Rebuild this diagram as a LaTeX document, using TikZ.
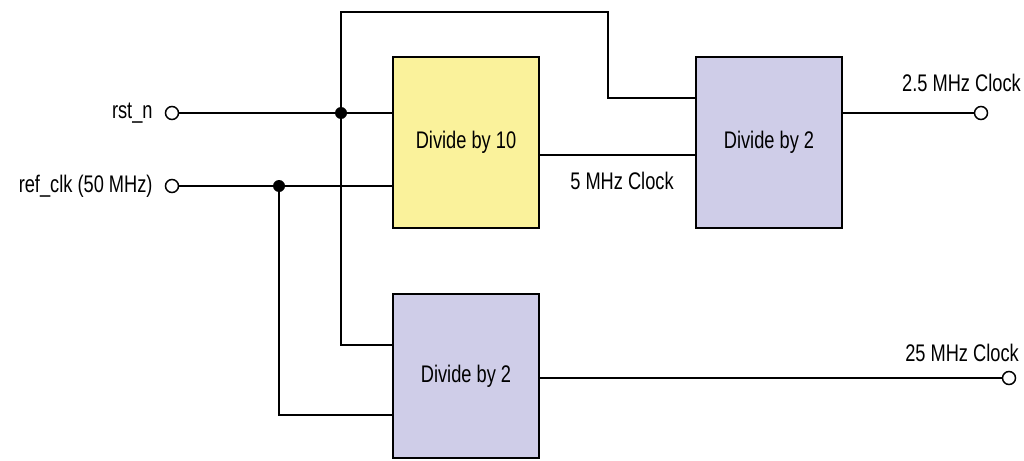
\documentclass[tikz,border=0pt]{standalone}
\usepackage{fontspec}
\setmainfont[FakeStretch=0.76]{Liberation Sans}
\usetikzlibrary{positioning, calc}

\definecolor{divyellow}{RGB}{250,242,155}
\definecolor{divlav}{RGB}{207,205,232}

\begin{document}
\begin{tikzpicture}[x=1pt, y=-1pt,
      font=\fontsize{24}{28}\selectfont,
      divbox/.style={rectangle, draw, line width=1.6pt, minimum width=146pt, minimum height=171pt, align=center, inner sep=0pt},
      port/.style={circle, draw, line width=1.5pt, fill=white, minimum size=13pt, inner sep=0pt},
      wire/.style={line width=1.6pt},
      dot/.style={circle, fill, minimum size=12pt, inner sep=0pt},
      lbl/.style={inner sep=0pt}
    ]
    \useasboundingbox (0,0) rectangle (1024,460);

    % blocks
    \node[divbox, fill=divyellow] (div10) at (466,142.5) {Divide by 10};
    \node[divbox, fill=divlav] (div2a) at (769,142.5) {Divide by 2};
    \node[divbox, fill=divlav, minimum height=164pt] (div2b) at (466,376) {Divide by 2};

    % ports
    \node[port] (rst) at (172,113) {};
    \node[port] (clk) at (172,186) {};
    \node[port] (out25a) at (981,113) {};
    \node[port] (out25b) at (1009,378) {};

    \node[lbl, left=12pt of rst] (rstlbl) {rst\_n};
    \node[lbl, left=12pt of clk] (clklbl) {ref\_clk (50 MHz)};
    \node[lbl, anchor=east] (lbla) at (1021,83) {2.5 MHz Clock};
    \node[lbl, anchor=east] (lblb) at (1019,353) {25 MHz Clock};
    \node[lbl] (lbl5) at (622,181) {5 MHz Clock};

    % junctions
    \coordinate (j1) at (341,113);
    \coordinate (j2) at (279,186);
    \coordinate (top) at (341,12);
    \coordinate (turn) at (608,12);

    \draw[wire] (rst) -- (div10.west |- rst);
    \draw[wire] (clk) -- (div10.west |- clk);
    \draw[wire] (j1) -- (top) -- (turn) |- (div2a.west |- 0,98);
    \draw[wire] (j1) |- (div2b.west |- 0,345);
    \draw[wire] (j2) |- (div2b.west |- 0,415);
    \draw[wire] (div10.east |- 0,155) -- (div2a.west |- 0,155);
    \draw[wire] (div2a.east |- out25a) -- (out25a);
    \draw[wire] (div2b.east |- out25b) -- (out25b);

    \node[dot] at (j1) {};
    \node[dot] at (j2) {};
  \end{tikzpicture}
\end{document}
